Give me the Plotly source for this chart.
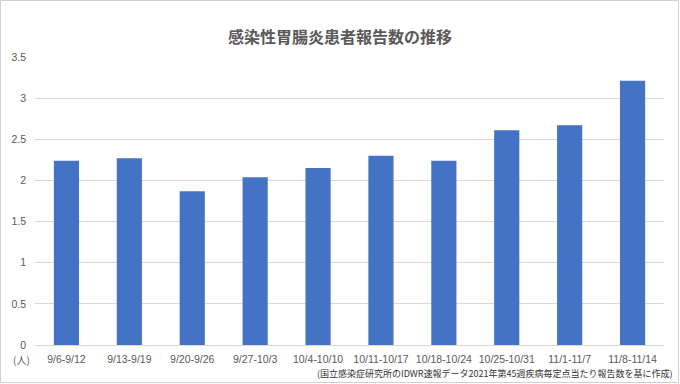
import plotly.graph_objects as go

categories = ["9/6-9/12", "9/13-9/19", "9/20-9/26", "9/27-10/3", "10/4-10/10",
              "10/11-10/17", "10/18-10/24", "10/25-10/31", "11/1-11/7", "11/8-11/14"]
values = [2.24, 2.27, 1.87, 2.04, 2.15, 2.30, 2.24, 2.61, 2.67, 3.21]
y_ticks = [0, 0.5, 1, 1.5, 2, 2.5, 3, 3.5]
y_tick_text = ["0", "0.5", "1", "1.5", "2", "2.5", "3", "3.5"]

W, H = 680, 384
L, R, T, B = 35, 16, 57, 39
pw, ph = W - L - R, H - T - B

font_main = "Noto Sans CJK JP"
grey = "#595959"

fig = go.Figure(go.Bar(x=categories, y=values, marker_color="#4472c4",
                       marker_line_width=0))

def px_x(px):
    return (px - L) / pw

def px_y(py):
    return (H - B - py) / ph

fig.update_layout(
    width=W, height=H,
    margin=dict(l=L, r=R, t=T, b=B, autoexpand=False),
    paper_bgcolor="white", plot_bgcolor="white",
    bargap=0.6,
    showlegend=False,
    font=dict(family=font_main, color=grey, size=11),
    title=dict(text="<b>感染性胃腸炎患者報告数の推移</b>", x=0.5, xanchor="center",
               y=1 - 37 / H, yanchor="middle",
               font=dict(size=16, color=grey, family=font_main)),
    xaxis=dict(showgrid=False, showline=True, linecolor="#d9d9d9", linewidth=1,
               ticks="", tickangle=0, automargin=False, ticklabelstandoff=4,
               tickfont=dict(size=10.5, color=grey, family="Liberation Sans"), fixedrange=True),
    yaxis=dict(range=[0, 3.5], tickvals=y_ticks, ticktext=y_tick_text,
               showgrid=True, gridcolor="#d9d9d9", gridwidth=1, zeroline=False,
               showline=False, ticks="", ticklabelstandoff=8, automargin=False,
               tickfont=dict(size=10.5, color=grey, family="Liberation Sans")),
    shapes=[dict(type="rect", xref="paper", yref="paper",
                 x0=px_x(0.5), x1=px_x(W - 1.5), y0=px_y(H - 1.5), y1=px_y(0.5),
                 line=dict(color="#d0d0d0", width=1), layer="below")],
    annotations=[
        dict(text="(人)", xref="paper", yref="paper", x=px_x(21), y=px_y(359),
             xanchor="center", yanchor="middle", showarrow=False,
             font=dict(size=10, color=grey)),
        dict(text="(国立感染症研究所のIDWR速報データ2021年第45週疾病毎定点当たり報告数を基に作成)",
             xref="paper", yref="paper", x=px_x(674), y=px_y(373),
             xanchor="right", yanchor="middle", showarrow=False,
             font=dict(size=9, color="#333333")),
    ],
)

fig.write_html("out.html")
